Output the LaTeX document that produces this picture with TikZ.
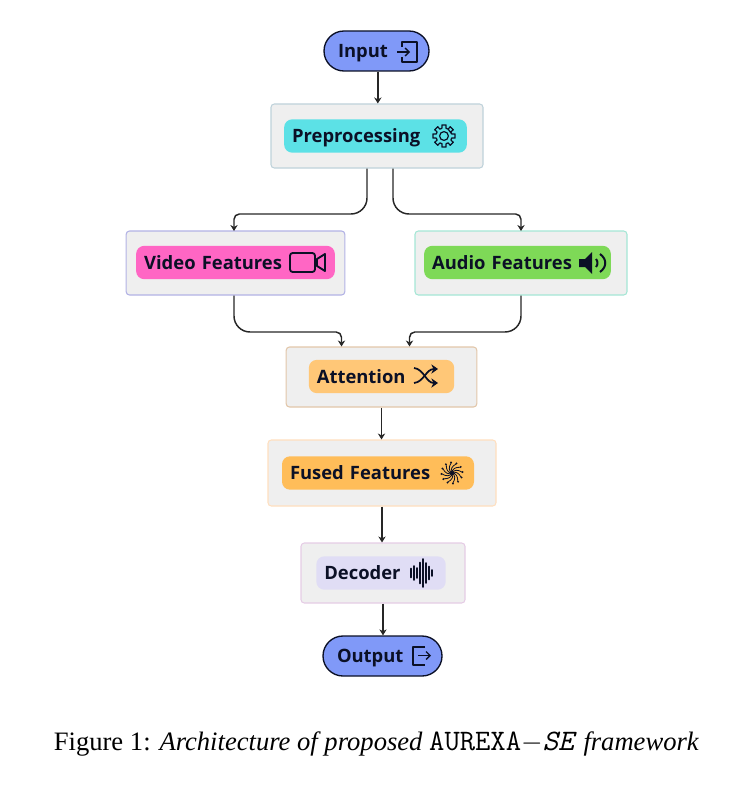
\documentclass[tikz,border=0pt]{standalone}
\usepackage{fontspec}
\setmainfont{Open Sans}
\newfontfamily\capfont{Liberation Serif}
\usepackage{tikz}
\usetikzlibrary{arrows.meta,calc,positioning}
\definecolor{inkdark}{HTML}{0B1026}
\definecolor{boxgray}{HTML}{EFEFEF}
\definecolor{terminalblue}{HTML}{8099F8}
\definecolor{precyan}{HTML}{5CE1E6}
\definecolor{videopink}{HTML}{FF66C4}
\definecolor{audiogreen}{HTML}{7ED957}
\definecolor{attnorange}{HTML}{FFC777}
\definecolor{fusedorange}{HTML}{FFBD59}
\definecolor{decoderlilac}{HTML}{E0DDF5}
\definecolor{audioedge}{HTML}{A5E6D5}
\tikzset{
	pics/gearicon/.style={code={
		\draw[inkdark, line width=.9pt, line join=round]
			\foreach \a in {0,45,...,315} {
				(\a-14:8) -- (\a-11:11.2) -- (\a+11:11.2) -- (\a+14:8)
				arc[start angle=\a+14, end angle=\a+31, radius=8]
			} -- cycle;
		\draw[inkdark, line width=.9pt] (0,0) circle (4.4);
	}},
	pics/bursticon/.style={code={
		\foreach \a in {0,30,...,330} {
			\draw[inkdark, line width=.6pt] (0,0) .. controls (\a:4) and (\a+30:7) .. (\a+55:10);
			\fill[inkdark] (\a+55:10.6) circle (1.1);
		}
		\fill[inkdark] (0,0) circle (1.4);
	}}
}
\begin{document}
\begin{tikzpicture}[
		x=.75pt, y=-.75pt,
		outerbox/.style={rectangle, rounded corners=2.5pt, fill=boxgray, line width=.8pt},
		pill/.style={rectangle, rounded corners=6pt, minimum height=25pt, inner xsep=6pt, inner ysep=0pt, align=left, text depth=0pt, font=\bfseries\fontsize{13.8}{15}\selectfont, text=inkdark},
		terminal/.style={rectangle, rounded corners=15pt, draw=inkdark, fill=terminalblue, line width=1pt, minimum height=30pt, inner xsep=10.5pt, inner ysep=0pt, align=left, text depth=0pt, font=\bfseries\fontsize{13.8}{15}\selectfont, text=inkdark},
		icon/.style={draw=inkdark, line width=1pt, line join=round},
		link/.style={draw=black!85, line width=1.1pt, -{Stealth[length=4.5pt, width=5.5pt]}}
		]
	\useasboundingbox (0,0) rectangle (754,788);
	
	% outer boxes
	\node[outerbox, draw=cyan!30!gray!45, minimum width=159pt, minimum height=48pt] (PreBox) at (377,136) {};
	\node[outerbox, draw=blue!25!white!80!gray, minimum width=164pt, minimum height=48pt] (VideoBox) at (235.5,263) {};
	\node[outerbox, draw=audioedge, minimum width=159pt, minimum height=48pt] (AudioBox) at (521,263) {};
	\node[outerbox, draw=brown!45!white, minimum width=143pt, minimum height=45pt] (AttnBox) at (381.5,377) {};
	\node[outerbox, draw=orange!25, minimum width=171pt, minimum height=49.5pt] (FusedBox) at (382,473) {};
	\node[outerbox, draw=violet!20, minimum width=123pt, minimum height=45pt] (DecBox) at (383,573) {};
	
	% labels with their colour
	\node[terminal, text width=57.75pt] (Input) at (376.5,51) {Input};
	\node[pill, fill=precyan, text width=125pt] (PrePill) at (375.5,136) {Preprocessing};
	\node[pill, fill=videopink, text width=137pt] (VideoPill) at (235.5,262.5) {Video Features};
	\node[pill, fill=audiogreen, text width=128pt] (AudioPill) at (517.5,262.5) {Audio Features};
	\node[pill, fill=attnorange, text width=97pt] (AttnPill) at (381.5,376.5) {Attention};
	\node[pill, fill=fusedorange, text width=132pt] (FusedPill) at (378,473) {Fused Features};
	\node[pill, fill=decoderlilac, text width=85pt] (DecPill) at (381,573) {Decoder};
	\node[terminal, text width=68.25pt] (Output) at (382.5,656) {Output};
	
	% icons
	\draw[icon] (402,47) -- (402,42) -- (417,42) -- (417,62) -- (402,62) -- (402,57);
	\draw[icon, -{Straight Barb[length=3pt, width=6pt]}] (397,52) -- (410,52);
	\pic at (444,136) {gearicon};
	\draw[icon, rounded corners=2pt, line width=1.4pt] (290,253) rectangle (315,272);
	\draw[icon, line width=1.4pt] (317,259) -- (325,254) -- (325,271) -- (317,266) -- cycle;
	\fill[inkdark] (579,259) -- (585,259) -- (592,252) -- (592,274) -- (585,267) -- (579,267) -- cycle;
	\draw[icon, line width=1.5pt] (596,259) .. controls (598,261) and (598,265) .. (596,267);
	\draw[icon, line width=1.5pt] (600,254) .. controls (607,259) and (607,267) .. (600,272);
	\draw[icon, line width=1.3pt, -{Stealth[length=5pt, width=7pt]}] (414,368) .. controls (424,369) and (426,383) .. (438,383);
	\draw[icon, line width=1.3pt, -{Stealth[length=5pt, width=7pt]}] (414,383) .. controls (424,382) and (426,369) .. (438,369);
	\pic at (452,473) {bursticon};
	\foreach \barx/\barh in {411/9, 414/14, 417/10, 420/21, 423/28, 426/20, 429/13, 432/6}
		\draw[icon, line width=1.4pt, line cap=round] (\barx,573-\barh/2) -- (\barx,573+\barh/2);
	\draw[icon] (425,647) -- (413,647) -- (413,665) -- (425,665);
	\draw[icon, -{Straight Barb[length=3pt, width=6pt]}] (418,655.5) -- (431,655.5);
	
	% connectors
	\coordinate (InputOut) at ($(Input.south)+(1pt,0)$);
	\draw[link] (InputOut) -- (InputOut |- PreBox.north);
	\coordinate (PreLeft) at ($(PreBox.south)+(-7.5pt,0)$);
	\coordinate (PreRight) at ($(PreBox.south)+(12pt,0)$);
	\coordinate (AttnLeft) at ($(AttnBox.north)+(-30pt,0)$);
	\coordinate (AttnRight) at ($(AttnBox.north)+(21pt,0)$);
	\draw[link, rounded corners=12pt] (PreLeft) -- (367,214) [rounded corners=4pt] -- (234,214) -- (234,231);
	\draw[link, rounded corners=12pt] (PreRight) -- (393,214) [rounded corners=4pt] -- (521,214) -- (521,231);
	\draw[link, rounded corners=12pt] (VideoBox.south -| 234,0) -- (234,332) [rounded corners=4pt] -- (341.5,332) -- (AttnLeft);
	\draw[link, rounded corners=12pt] (AudioBox.south -| 521,0) -- (521,332) [rounded corners=4pt] -- (409.5,332) -- (AttnRight);
	\draw[link] (AttnBox.south) -- (AttnBox.south |- FusedBox.north);
	\draw[link] (FusedBox.south) -- (FusedBox.south |- DecBox.north);
	\draw[link] (DecBox.south) -- (DecBox.south |- Output.north);
	
	% caption
	\node[inner sep=0pt, font=\capfont\fontsize{19.95}{22}\selectfont] (Caption) at (376.5,744) {Figure 1: \textit{Architecture of proposed} {\ttfamily\fontsize{22.3}{22}\selectfont AUREXA$-$\textit{SE}} \textit{framework}};
\end{tikzpicture}
\end{document}
